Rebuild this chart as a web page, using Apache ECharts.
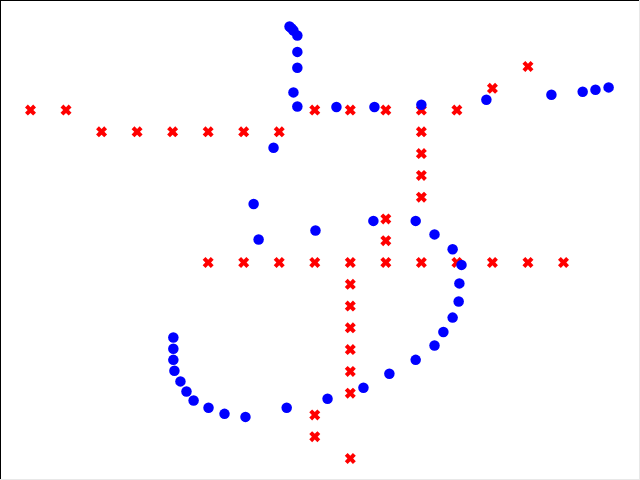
<!DOCTYPE html>
<html>
<head>
<meta charset="utf-8">
<script src="https://cdn.jsdelivr.net/npm/echarts@6/dist/echarts.min.js"></script>
<style>html,body{margin:0;padding:0;background:#fff}#c{width:640px;height:480px}</style>
</head>
<body>
<div id="c"></div>
<script>
// Red "X" markers: grid column (x) and grid row (y, 0 at top)
var redX = [0,1,8,9,10,11,12, 2,3,4,5,6,7,11, 11,11,11, 10,10, 5,6,7,8,9,10,11,12,13,14,15, 9,9,9,9,9,9, 8,8,9, 13,14];
var redY = [2,2,2,2,2,2,2, 3,3,3,3,3,3,3, 4,5,6, 7,8, 9,9,9,9,9,9,9,9,9,9,9, 10,11,12,13,14,15, 16,17,18, 1,0];

// Blue circle markers (same units)
var blueX = [7.29,7.35,7.40,7.51,7.51,7.51,7.40,7.51,8.61,9.68,11.00,12.83,14.66,15.54,15.90,16.27,
             6.84,6.28,6.42,8.02,9.65,10.84,11.37,11.88,12.13,12.07,12.05,11.88,11.62,11.37,10.84,10.10,9.37,8.36,7.21,6.05,5.46,5.01,4.59,4.39,4.22,4.05,4.02,4.02,4.02];
var blueY = [-1.84,-1.75,-1.65,-1.42,-0.67,0.06,1.19,1.84,1.86,1.86,1.76,1.53,1.30,1.16,1.07,0.96,
             3.73,6.31,7.94,7.53,7.09,7.09,7.71,8.39,9.11,9.96,10.79,11.53,12.19,12.81,13.47,14.11,14.75,15.26,15.67,16.09,15.95,15.67,15.34,14.92,14.46,13.97,13.47,12.96,12.44];

function zip(a, b) { return a.map(function (v, i) { return [v, b[i]]; }); }

var xPath = 'path://M2.6,0 L5,2.4 L7.4,0 L10,2.6 L7.6,5 L10,7.4 L7.4,10 L5,7.6 L2.6,10 L0,7.4 L2.4,5 L0,2.6 Z';

var chart = echarts.init(document.getElementById('c'), null, {renderer: 'canvas'});
chart.setOption({
  animation: false,
  backgroundColor: '#ffffff',
  grid: {left: 30.5, right: 5.44, top: 22.94, bottom: 21.5},
  xAxis: {type: 'value', min: 0, max: 17, show: false},
  yAxis: {type: 'value', min: -2, max: 18, inverse: true, show: false},
  graphic: [
    {type: 'line', shape: {x1: 0, y1: 0.5, x2: 640, y2: 0.5}, style: {stroke: '#000', lineWidth: 1}},
    {type: 'line', shape: {x1: 0.5, y1: 0, x2: 0.5, y2: 480}, style: {stroke: '#000', lineWidth: 1}},
    {type: 'line', shape: {x1: 639.5, y1: 0, x2: 639.5, y2: 480}, style: {stroke: '#e8e8e8', lineWidth: 1}},
    {type: 'line', shape: {x1: 0, y1: 479.5, x2: 640, y2: 479.5}, style: {stroke: '#e8e8e8', lineWidth: 1}}
  ],
  series: [
    {type: 'scatter', data: zip(redX, redY), symbol: xPath, symbolSize: 11, clip: false,
     itemStyle: {color: '#ff0000', opacity: 1}},
    {type: 'scatter', data: zip(blueX, blueY), symbol: 'circle', symbolSize: 10.5, clip: false,
     itemStyle: {color: '#0000ff', opacity: 1}}
  ]
});
</script>
</body>
</html>
